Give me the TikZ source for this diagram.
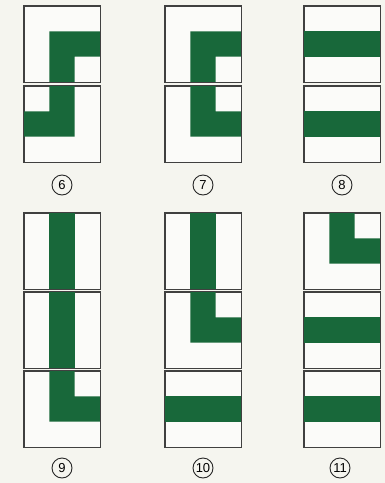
\documentclass[tikz,border=0pt]{standalone}
\usepackage{fontspec}
\setsansfont{Liberation Sans}
\usepackage{tikz}
\usepackage{xcolor}

\definecolor{leaf}{RGB}{24,104,58}
\definecolor{paper}{RGB}{245,245,239}

\begin{document}
\begin{tikzpicture}[x=1pt, y=-1pt,
    tile/.style={rectangle, draw=black!75, fill=white!60!paper, line width=0.9pt, minimum width=76pt, minimum height=76pt, inner sep=0pt},
    num/.style={circle, draw=black!85, line width=0.9pt, minimum size=20pt, inner sep=0pt, font=\sffamily\fontsize{13}{13}\selectfont}]

    \fill[paper] (0,0) rectangle (385,483);
    \useasboundingbox (0,0) rectangle (385,483);

    % tiles
    \node[tile] (t6a) at (62,44) {};
    \node[tile] (t6b) at (62,124) {};
    \node[tile] (t7a) at (203,44) {};
    \node[tile] (t7b) at (203,124) {};
    \node[tile] (t8a) at (342,44) {};
    \node[tile] (t8b) at (342,124) {};
    \node[tile] (t9a) at (62,251) {};
    \node[tile] (t9b) at (62,330) {};
    \node[tile] (t9c) at (62,409) {};
    \node[tile] (t10a) at (203,251) {};
    \node[tile] (t10b) at (203,330) {};
    \node[tile] (t10c) at (203,409) {};
    \node[tile] (t11a) at (342,251) {};
    \node[tile] (t11b) at (342,330) {};
    \node[tile] (t11c) at (342,409) {};

    % green bands
    \fill[leaf] (49.3,31.3) -- (100,31.3) -- (100,56.7) -- (74.7,56.7) -- (74.7,82) -- (49.3,82) -- cycle;
    \fill[leaf] (49.3,86) -- (74.7,86) -- (74.7,136.7) -- (24,136.7) -- (24,111.3) -- (49.3,111.3) -- cycle;
    \fill[leaf] (190.3,31.3) -- (241,31.3) -- (241,56.7) -- (215.7,56.7) -- (215.7,82) -- (190.3,82) -- cycle;
    \fill[leaf] (190.3,86) -- (215.7,86) -- (215.7,111.3) -- (241,111.3) -- (241,136.7) -- (190.3,136.7) -- cycle;
    \fill[leaf] (304,31.3) rectangle (380,56.7);
    \fill[leaf] (304,111.3) rectangle (380,136.7);
    \fill[leaf] (49.3,213) rectangle (74.7,289);
    \fill[leaf] (49.3,292) rectangle (74.7,368);
    \fill[leaf] (49.3,371) -- (74.7,371) -- (74.7,396.3) -- (100,396.3) -- (100,421.7) -- (49.3,421.7) -- cycle;
    \fill[leaf] (190.3,213) rectangle (215.7,289);
    \fill[leaf] (190.3,292) -- (215.7,292) -- (215.7,317.3) -- (241,317.3) -- (241,342.7) -- (190.3,342.7) -- cycle;
    \fill[leaf] (165,396.3) rectangle (241,421.7);
    \fill[leaf] (329.3,213) -- (354.7,213) -- (354.7,238.3) -- (380,238.3) -- (380,263.7) -- (329.3,263.7) -- cycle;
    \fill[leaf] (304,317.3) rectangle (380,342.7);
    \fill[leaf] (304,396.3) rectangle (380,421.7);

    % redraw tile borders over the bands
    \foreach \t in {t6a,t6b,t7a,t7b,t8a,t8b,t9a,t9b,t9c,t10a,t10b,t10c,t11a,t11b,t11c}
        \draw[black!75, line width=0.9pt] (\t.north west) rectangle (\t.south east);

    % numbers
    \node[num] (l6) at (62,185) {6};
    \node[num] (l7) at (203,185) {7};
    \node[num] (l8) at (342,185) {8};
    \node[num] (l9) at (62,468) {9};
    \node[num] (l10) at (203,468) {10};
    \node[num] (l11) at (340,468) {11};
\end{tikzpicture}
\end{document}
